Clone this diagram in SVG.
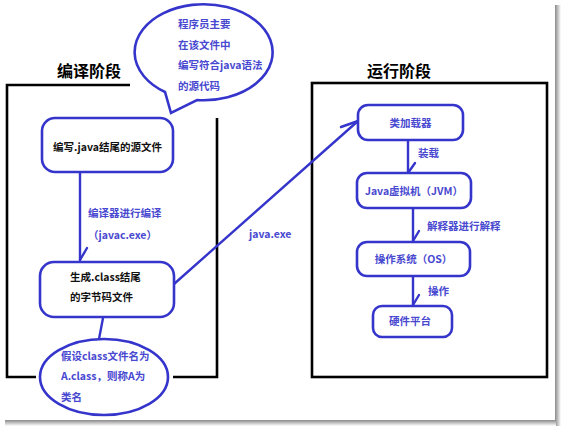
<svg xmlns="http://www.w3.org/2000/svg" width="562" height="428" viewBox="0 0 562 428">
<defs>
<linearGradient id="shR" x1="0" y1="0" x2="1" y2="0"><stop offset="0" stop-color="#8a8a8a"/><stop offset="1" stop-color="#ffffff"/></linearGradient>
<linearGradient id="shB" x1="0" y1="0" x2="0" y2="1"><stop offset="0" stop-color="#8a8a8a"/><stop offset="1" stop-color="#ffffff"/></linearGradient>
<style>
.t{font-family:"Noto Sans CJK SC","Microsoft YaHei",sans-serif;font-weight:bold;font-size:10.5px}
.blk{fill:#111}
.blu{fill:#4848d0}
.title{font-family:"Noto Sans CJK SC",sans-serif;font-weight:bold;font-size:16px;fill:#000}
.node{fill:#fff;stroke:#3535cc;stroke-width:2.6}
.frame{fill:none;stroke:#000;stroke-width:2.6}
.con{fill:none;stroke:#3535cc;stroke-width:2.4;stroke-linecap:round;stroke-linejoin:round}
</style>
</defs>
<rect width="562" height="428" fill="#fff"/>
<rect x="555" y="5" width="6" height="421" fill="url(#shR)"/>
<rect x="5" y="420" width="551" height="6" fill="url(#shB)"/>

<g id="compile-stage">
<polyline class="frame" points="130,85 7,85 7,377 36,377"/>
<polyline class="frame" points="173,377 217,377 217,118"/>
<text class="title" x="57" y="77">编译阶段</text>
</g>

<g id="run-stage">
<rect class="frame" x="312" y="83" width="235" height="294" stroke-width="3"/>
<text class="title" x="367" y="77">运行阶段</text>
</g>

<g id="bubble">
<path class="node" d="M165,92 A69,48 0 1 1 197,100 L171,113 Z"/>
<text class="t blu" x="178" y="28">程序员主要</text>
<text class="t blu" x="178" y="49">在该文件中</text>
<text class="t blu" x="178" y="69">编写符合java语法</text>
<text class="t blu" x="178" y="90">的源代码</text>
</g>

<g id="connectors">
<line class="con" x1="80" y1="172" x2="80" y2="260"/>
<line class="con" x1="80" y1="260" x2="87" y2="248"/>
<line class="con" x1="103" y1="318" x2="99" y2="339"/>
<line class="con" x1="174" y1="284" x2="358" y2="121"/>
<line class="con" x1="358" y1="121" x2="341" y2="127"/>
<line class="con" x1="408" y1="140" x2="408" y2="173"/>
<line class="con" x1="408" y1="173" x2="415" y2="163"/>
<line class="con" x1="413" y1="208" x2="413" y2="241"/>
<line class="con" x1="413" y1="241" x2="419" y2="231"/>
<line class="con" x1="413" y1="276" x2="413" y2="305"/>
<line class="con" x1="413" y1="305" x2="419" y2="295"/>
<text class="t blu" x="88" y="217">编译器进行编译</text>
<text class="t blu" x="88" y="239">（javac.exe）</text>
<text class="t blu" x="249" y="238">java.exe</text>
<text class="t blu" x="418" y="157">装载</text>
<text class="t blu" x="427" y="230">解释器进行解释</text>
<text class="t blu" x="428" y="295">操作</text>
</g>

<g id="source-file">
<rect class="node" x="42" y="118" width="131" height="54" rx="13"/>
<text class="t blk" x="107.5" y="151" text-anchor="middle">编写.java结尾的源文件</text>
</g>

<g id="class-file">
<rect class="node" x="40" y="262" width="134" height="55" rx="14"/>
<text class="t blk" x="70" y="281">生成.class结尾</text>
<text class="t blk" x="70" y="301">的字节码文件</text>
</g>

<g id="class-note">
<ellipse class="node" cx="104" cy="377" rx="64" ry="38"/>
<text class="t blu" x="61" y="360">假设class文件名为</text>
<text class="t blu" x="61" y="380">A.class，则称A为</text>
<text class="t blu" x="61" y="401">类名</text>
</g>

<g id="class-loader">
<rect class="node" x="358" y="105" width="105" height="35" rx="10"/>
<text class="t blu" x="410.5" y="127" text-anchor="middle">类加载器</text>
</g>

<g id="jvm">
<rect class="node" x="357" y="173" width="114" height="35" rx="10"/>
<text class="t blu" x="414" y="195" text-anchor="middle">Java虚拟机（JVM）</text>
</g>

<g id="os">
<rect class="node" x="357" y="242" width="113" height="34" rx="10"/>
<text class="t blu" x="413.5" y="263" text-anchor="middle">操作系统（OS）</text>
</g>

<g id="hardware">
<rect class="node" x="373" y="306" width="79" height="31" rx="9"/>
<text class="t blu" x="410" y="325" text-anchor="middle">硬件平台</text>
</g>
</svg>
